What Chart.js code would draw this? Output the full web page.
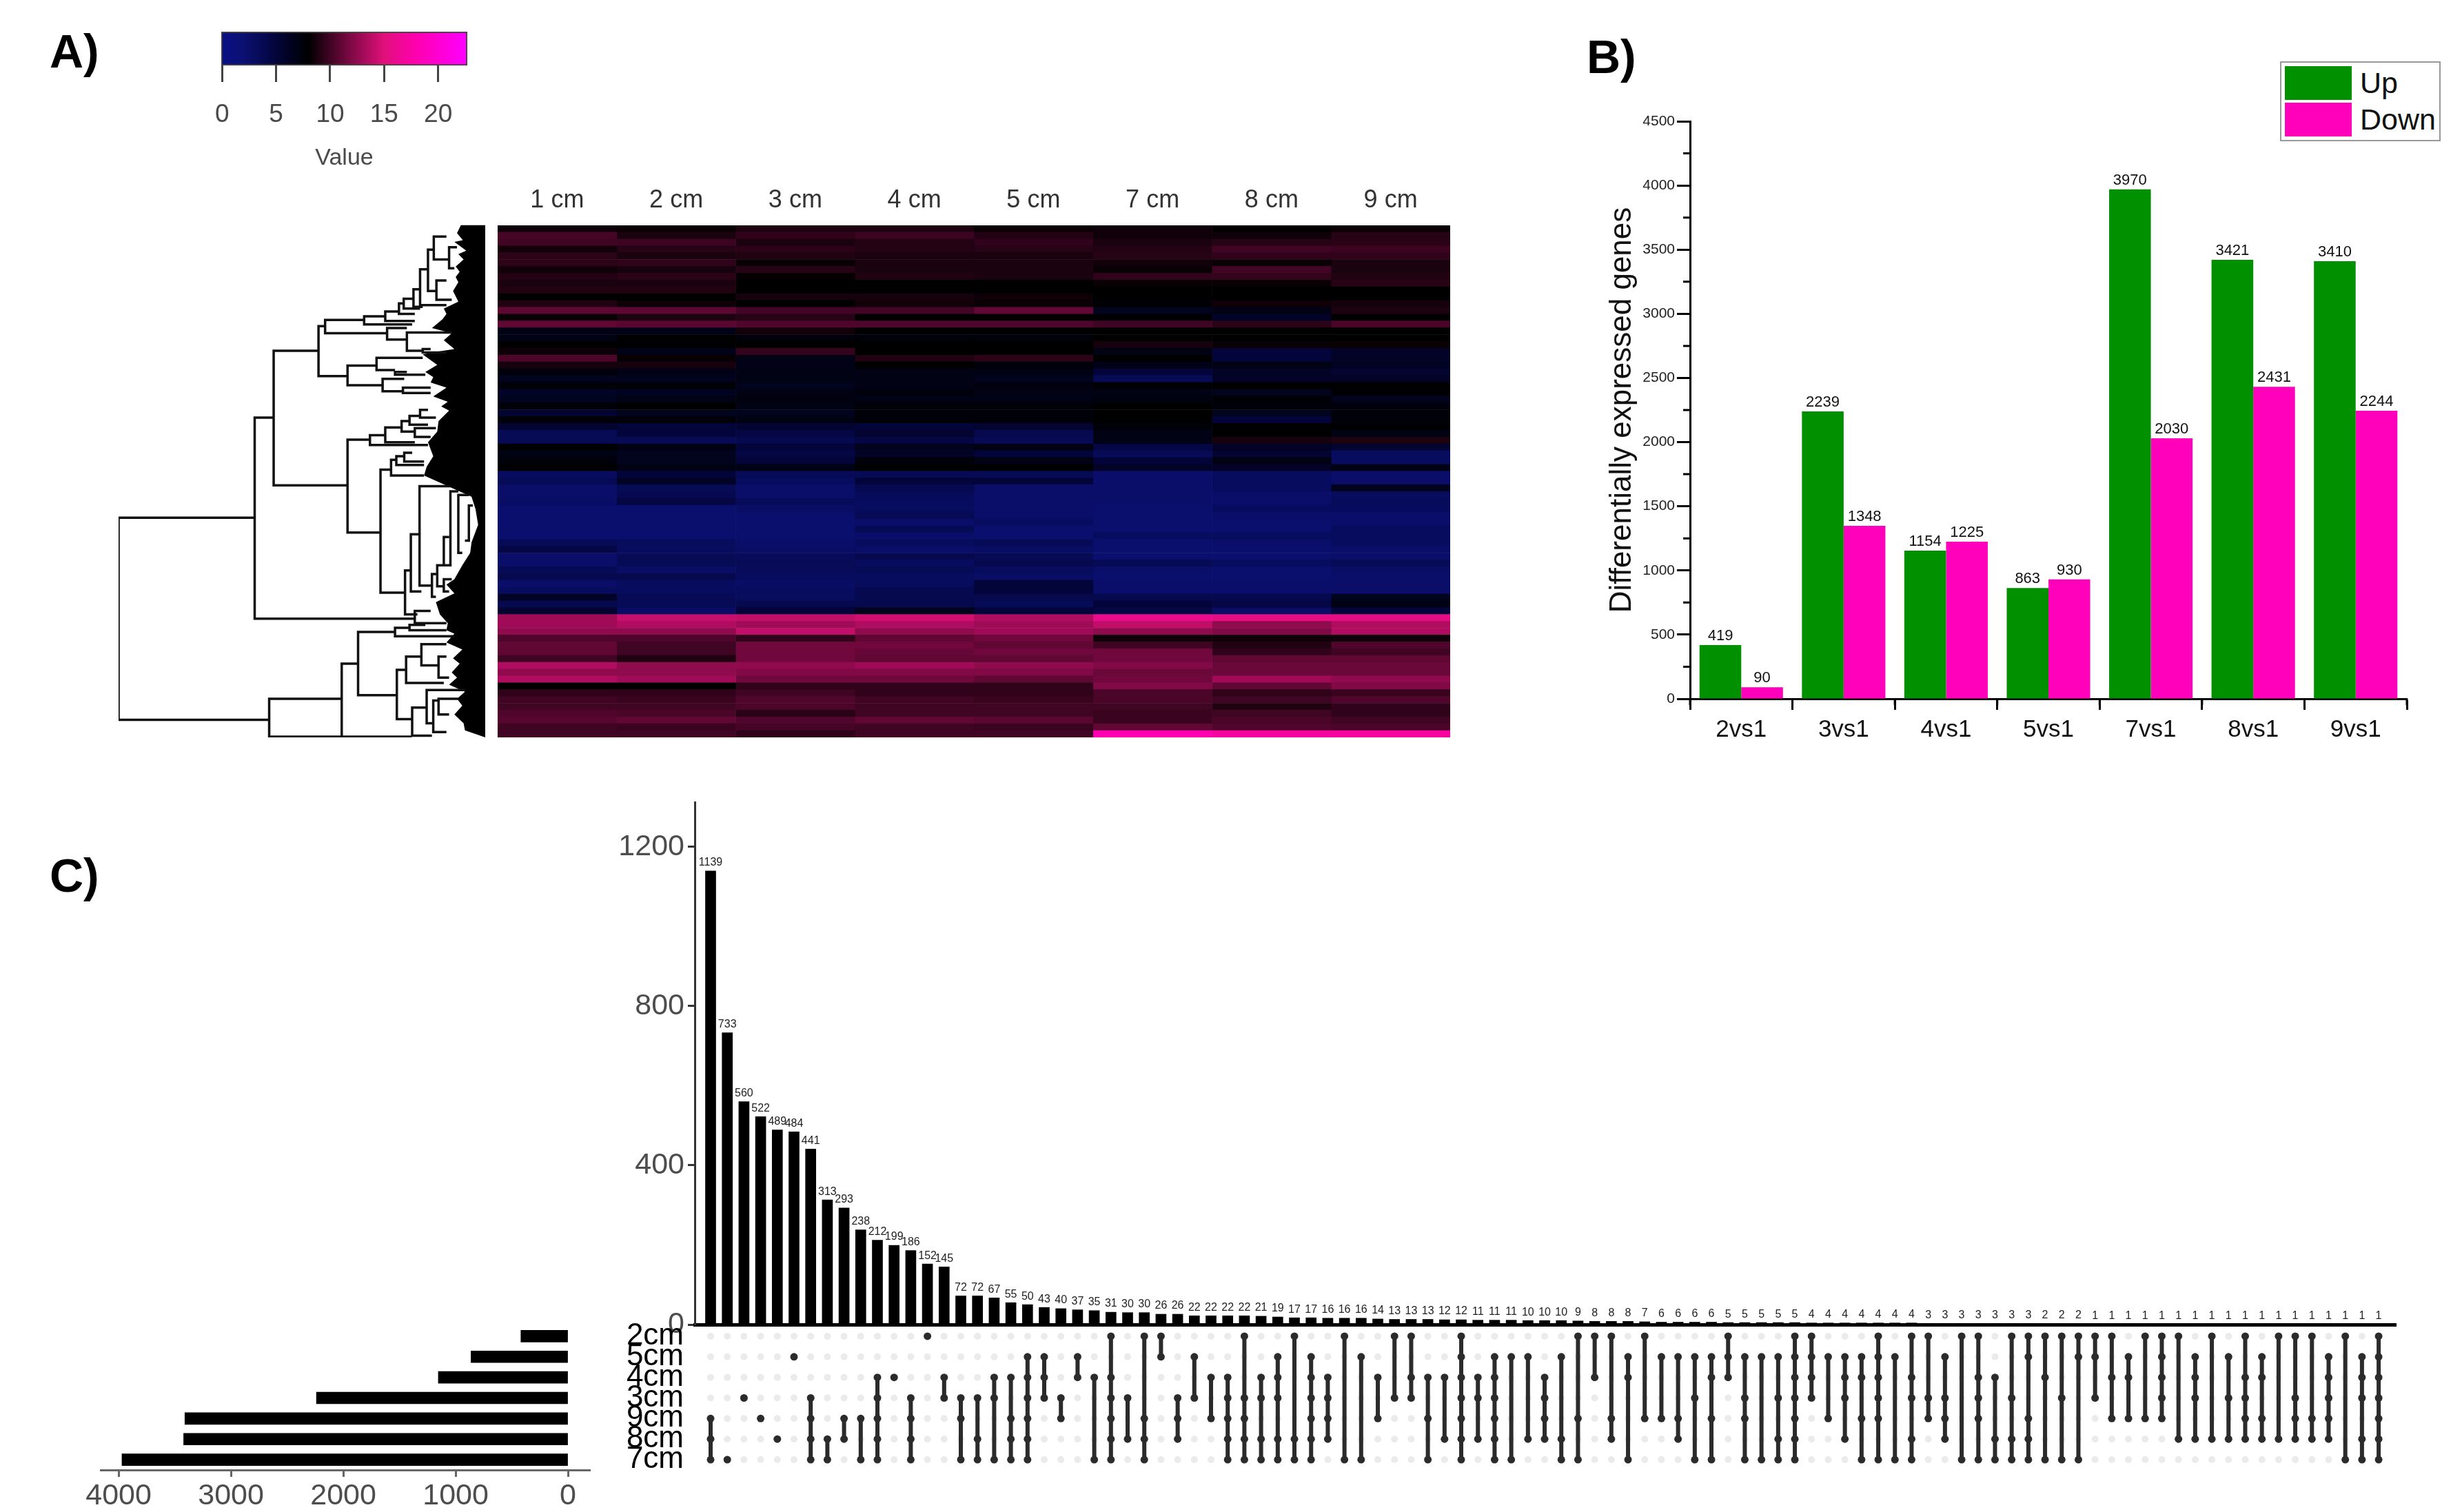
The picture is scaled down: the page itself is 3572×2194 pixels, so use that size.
<!DOCTYPE html>
<html>
<head>
<meta charset="utf-8">
<script src="https://cdn.jsdelivr.net/npm/chart.js@4"></script>
<style>
    html, body { margin: 0; padding: 0; background: #fff; width: 3572px; height: 2194px; overflow: hidden; }
    body { position: relative; font-family: "Liberation Sans", Arial, sans-serif; }
    canvas { position: absolute; }
    .letter { position: absolute; font-weight: bold; font-size: 68px; line-height: 68px; color: #000; }
    #legend { position: absolute; left: 3308px; top: 89px; width: 229px; height: 112px; border: 2px solid #999; background: #fff; }
    #legend i { position: absolute; left: 5px; width: 97px; height: 49px; }
    #legend span { position: absolute; left: 114px; font-size: 43px; line-height: 49px; color: #111; }
</style>
</head>
<body>
<div class="letter" style="left:72px;top:40px">A)</div>
<div class="letter" style="left:2302px;top:48px">B)</div>
<div class="letter" style="left:72px;top:1236px">C)</div>
<div id="legend">
    <i style="top:5px;background:#009000"></i><span style="top:5px">Up</span>
    <i style="top:58px;background:#ff00bb"></i><span style="top:58px">Down</span>
</div>

<canvas id="colorbar" style="left:280px;top:30px" width="450" height="220"></canvas>
<canvas id="heatmap" style="left:700px;top:250px" width="1420" height="820"></canvas>
<canvas id="dendro" style="left:160px;top:315px" width="555" height="765"></canvas>
<canvas id="degBars" style="left:2310px;top:150px" width="1200" height="950"></canvas>
<canvas id="setSizes" style="left:100px;top:1915px" width="800" height="279"></canvas>
<canvas id="intersections" style="left:880px;top:1150px" width="2620" height="790"></canvas>
<canvas id="matrix" style="left:880px;top:1915px" width="2620" height="230"></canvas>

<script>
    // Panel A: heat map, one row per band, columns follow heatSamples.
    var heatSamples = ['1 cm', '2 cm', '3 cm', '4 cm', '5 cm', '7 cm', '8 cm', '9 cm'];
    var heatValues = [
        [8.4,8.3,8.9,8.9,8.3,8.5,8,8.3],
        [10.2,8.8,9.5,9.9,9.1,8.5,8.5,9.2],
        [10,9.9,8.8,9.1,9.5,8.8,9.2,9.3],
        [8.6,9.2,9.3,9.1,9.2,9.1,10,9.9],
        [9.4,8.8,9,8.8,8.8,9.2,9.5,9.5],
        [9.4,9.5,8.3,8.8,8.8,8.6,8.3,8.8],
        [8.6,8.7,9.2,8.8,8.8,8.3,10.1,8.8],
        [9.1,9.3,8.2,9,8.8,9.5,9.6,9],
        [8.8,8.8,8,8,8,8.3,8.3,9.2],
        [9,9,8,8,8,8,8,8],
        [8,8,8.7,8.7,8.4,8,8,8],
        [9,8.4,8,8.6,8.3,7.8,8.5,8.7],
        [10.9,10.9,10.1,10.1,11.1,6.5,7,8.9],
        [8.3,8.9,9.2,8,8,7.8,6,8],
        [11,10.8,10.5,10.5,10.5,10,9.3,10.3],
        [7,6.8,8.6,8,8,8,8,8],
        [7,8,7.5,7.5,7.5,8,8,8],
        [8,8,8,8,8,8.7,8.3,8.3],
        [8.4,6.8,9.6,8,8,7,5,6],
        [10.4,8.2,7,9,9.4,8,5,6],
        [8.7,8.7,6.8,8,7.5,6.8,7,6.2],
        [7.3,6.8,7,7,7,5,6,5.5],
        [6.5,6.5,7,7,6.5,3.5,6,6],
        [7.5,7.7,6.5,7,7.2,7.8,8,8],
        [6,6.3,7,7.3,7,7,6.5,7.8],
        [6.5,7,7.2,7,7,7.2,7.7,6.5],
        [7.5,8,7,7.5,7.5,8,7.5,7.3],
        [5.5,6.5,6.5,7.5,7.5,8,6.5,7.5],
        [7.5,7.5,7,7.7,7.5,8,5,7.5],
        [5.5,5,5.5,5,5.5,7.5,8,7.8],
        [3.5,5,4.5,5.5,4,7,8,7],
        [3.5,3.5,4,4.5,3.5,7,8.7,8.9],
        [8,7,5,6.5,7,4.5,6,5.5],
        [7,6.5,4.5,6,5,3.5,5.5,3],
        [7.5,6.5,5,7.5,7,5,7,3],
        [8,7,7,8,8,6,6,7],
        [3,5,3.5,3.5,3.5,2.5,3,2.5],
        [3.5,6,3,5,5,2.5,3,2.5],
        [2.5,3.5,2.5,3.8,2.5,2.5,3,6.5],
        [2.5,3.8,2.5,3.3,2.5,2.5,2.5,3],
        [2.8,4.5,3.3,3,2.5,2.5,2.5,3.3],
        [2.2,2.2,2.8,3,2.5,2.2,3,3],
        [2.2,2.2,2.2,3.5,2.5,2.2,2.5,2.5],
        [2.2,2.2,2.2,2.5,3,2.2,2.2,2.5],
        [2.2,2.2,2.2,3.5,2.2,2.2,2.2,3],
        [2.2,2.2,2.2,2.5,2.2,3,3,3],
        [3.5,3.2,2.5,3,3.5,2.2,2.5,3],
        [4.5,3,2.8,2.5,2.8,2.2,2.2,2.5],
        [2.5,3.5,3.3,4,3.5,2.2,2.2,2.5],
        [2.5,3.5,3.5,3,4,3.5,3.2,3.5],
        [3.5,2.8,3.3,3.5,3,2.5,2.2,2.8],
        [4,4,3,3,2.8,2.2,2.2,2.5],
        [2.5,3,2.8,3.2,5,2.5,2.5,2.5],
        [3,3,3,3.8,5,2.5,2.5,2.5],
        [6,3.5,3.2,4,4,4,4,6.5],
        [4,3.5,4,4,3.5,5,4.5,7],
        [5.5,2.8,5,6.5,5,4.5,2.8,5],
        [13,14.2,14,14.5,13.5,16,15.5,15.5],
        [13,13.5,13,13.5,13,14,12.5,13.5],
        [12.5,12.5,14,12.5,13,12.5,12,13.5],
        [10.5,10.5,9.5,11,11.5,8.5,8.5,8.5],
        [11,10,11.5,11.5,11,10,9,10.5],
        [11,10,11.5,11.2,11.5,11.5,9.5,10],
        [10,9,11.5,11,11,11.5,11,11],
        [13.5,12.5,12.5,13,12.5,12,11.3,11.3],
        [12.5,12.5,12,12,12,11.3,11.3,11.3],
        [13.5,13,11.5,11.5,11,11.5,13,12.5],
        [8,8,9.5,9.5,9.5,12,11,12],
        [9.5,9.5,10,9.5,9.5,10.3,9.5,9.8],
        [10,9.8,10.5,10,9.8,10.3,10,10.5],
        [10,10,10.3,10,10,10,9,9.5],
        [10.5,10.3,9.3,10,10,9.8,10,9.5],
        [10.7,11,10.5,11,10.8,9.8,10.3,10],
        [10,9.8,10.2,10,9.8,11,10.5,10.3],
        [10,10,9.5,10,10,18,17,17]
    ];
    var colorTicks = [0, 5, 10, 15, 20];
    var colorStops = [
        [0, [10, 16, 132]], [2, [11, 16, 114]], [5, [3, 5, 58]], [8, [0, 0, 0]],
        [15, [224, 16, 122]], [18, [255, 0, 176]], [22.7, [255, 0, 255]]
    ];

    // Dendrogram merges: [height, y1, child height 1, y2, child height 2].
    var dendroMerges = [
        [57,885,573,1460,628],[573,600,645,1172,1180],[645,410,815,793,925],[815,340,840,482,925],
        [840,322,988,360,1075],[988,312,1068,335,1170],[1068,298,1120,325,1180],[1120,275,1138,305,1180],
        [1138,262,1175,290,1200],[1175,235,1200,285,1210],[1200,178,1230,280,1300],[1230,122,1252,240,1262],
        [1252,85,1300,150,1310],[1262,210,1300,265,1320],[1310,115,1340,175,1330],[1075,345,1150,378,1150],
        [1150,358,1320,410,1210],[1210,405,1240,415,1300],[925,452,1035,508,1058],[1035,430,1210,465,1105],
        [1105,470,1150,478,1220],[1058,490,1140,525,1135],[1135,515,1240,530,1240],[925,663,1010,927,1050],
        [1010,650,1068,678,1230],[1068,628,1130,670,1180],[1130,610,1160,640,1180],[1160,595,1200,620,1230],
        [1200,578,1230,600,1260],[1180,630,1260,655,1240],[1050,748,1090,1098,1143],[1090,720,1110,765,1215],
        [1110,710,1140,735,1215],[1140,700,1170,725,1215],[1143,1035,1165,1160,1190],[1165,932,1198,1095,1205],
        [1198,795,1315,1078,1245],[1315,810,1345,1020,1290],[1345,820,1385,985,1360],[1385,850,1400,950,1370],
        [1290,940,1310,1020,1275],[1245,1045,1265,1110,1260],[1265,1020,1285,1080,1290],[1290,1060,1320,1095,1310],
        [1180,1150,1240,1185,1300],[628,1400,903,1508,903],[903,1300,965,1508,1168],[965,1210,1105,1390,1112],
        [1105,1198,1160,1222,1330],[1160,1190,1220,1205,1300],[1112,1318,1147,1458,1170],[1147,1280,1205,1355,1290],
        [1205,1245,1300,1305,1270],[1270,1280,1300,1340,1310],[1170,1425,1225,1505,1245],[1225,1375,1370,1470,1250],
        [1250,1405,1270,1495,1300],[1270,1400,1350,1445,1310]
    ];
    // Where the dense leaf branches begin, top to bottom: [height, y].
    var dendroLeafEdge = [
        [1355,52],[1340,75],[1362,95],[1330,100],[1375,125],[1345,135],[1365,150],[1335,170],[1350,185],[1335,200],
        [1345,215],[1325,240],[1345,270],[1290,290],[1300,305],[1285,320],[1245,345],[1320,360],[1290,380],[1330,405],
        [1270,412],[1210,420],[1265,450],[1220,470],[1250,485],[1240,500],[1300,515],[1250,540],[1305,555],
        [1280,568],[1310,580],[1270,610],[1265,640],[1230,670],[1250,710],[1225,740],[1215,765],[1275,785],[1320,800],
        [1395,825],[1410,860],[1420,905],[1395,955],[1390,985],[1360,1020],[1330,1060],[1300,1075],[1330,1100],
        [1260,1125],[1275,1160],[1305,1185],[1300,1205],[1330,1215],[1300,1240],[1360,1260],[1325,1285],[1350,1300],
        [1320,1325],[1340,1340],[1310,1360],[1370,1380],[1340,1400],[1360,1420],[1330,1445],[1365,1470],[1370,1490],
        [1447,1510],[1447,52]
    ];

    // Panel B: differentially expressed genes.
    var degComparisons = ['2vs1', '3vs1', '4vs1', '5vs1', '7vs1', '8vs1', '9vs1'];
    var degUp = [419, 2239, 1154, 863, 3970, 3421, 3410];
    var degDown = [90, 1348, 1225, 930, 2030, 2431, 2244];

    // Panel C: UpSet plot. Each entry of intersectionSets lists the member rows of setNames.
    var setNames = ['2cm', '5cm', '4cm', '3cm', '9cm', '8cm', '7cm'];
    var setSizeValues = [419, 863, 1154, 2239, 3410, 3421, 3970];
    var setSizeTicks = [0, 1000, 2000, 3000, 4000];
    var intersectionTicks = [0, 400, 800, 1200];
    var intersectionSizes = [
        1139,733,560,522,489,484,441,313,293,238,212,199,186,152,145,72,72,67,55,50,43,40,37,35,31,30,30,26,26,
        22,22,22,22,21,19,17,17,16,16,16,14,13,13,13,12,12,11,11,11,10,10,10,9,8,8,8,7,6,6,6,6,5,5,5,5,5,
        4,4,4,4,4,4,4,3,3,3,3,3,3,3,2,2,2,1,1,1,1,1,1,1,1,1,1,1,1,1,1,1,1,1,1
    ];
    var intersectionSets = [
        '456','6','3','4','5','1','3456','56','45','46','23456','2','3456','0','23','346','356','236','2456','123456',
        '123','34','12','26','023456','35','0456','01','345','13','24','23456','03456','2356','12356','056','123456','2345',
        '06','16','24','03','023','246','25','0123456','235','123456','16','15','2345','156','046','02','045','126','04',
        '14','145','136','1246','012','1346','16','1356','0123456','0123','14','1235','1246','012346','16','02356','034',
        '1345','06','02346','256','0356','01456','026','036','016','013','024','124','04','01234','05','1235','05','135',
        '02345','1245','05','0345','045','12345','06','12356','0123456'
    ];

    Chart.defaults.font.family = '"Liberation Sans", Arial, sans-serif';
    Chart.defaults.devicePixelRatio = 1;
    Chart.defaults.animation = false;
    Chart.defaults.responsive = false;
    Chart.defaults.plugins.legend.display = false;
    Chart.defaults.plugins.tooltip.enabled = false;

    /**
     * Force an axis to a fixed thickness so the plot areas land where they should.
     */
    function pinAxis(size) {
        return function(scale) {
            if (scale.isHorizontal()) {
                scale.height = size;
            } else {
                scale.width = size;
            }
            scale.paddingLeft = scale.paddingRight = scale.paddingTop = scale.paddingBottom = 0;
        };
    }

    // Chart.js respaces a stepSize when min and max are both set, so give the ticks directly.
    function fixedTicks(values) {
        return function(scale) {
            scale.ticks = values.map(function(v) { return { value: v }; });
        };
    }

    function heatColor(value) {
        for (var i = 1; i < colorStops.length; i++) {
            if (value <= colorStops[i][0]) {
                var a = colorStops[i - 1], b = colorStops[i];
                var t = (value - a[0]) / (b[0] - a[0]);
                return 'rgb(' + [0, 1, 2].map(function(c) {
                    return Math.round(a[1][c] + (b[1][c] - a[1][c]) * t);
                }).join(',') + ')';
            }
        }
        return 'rgb(255,0,255)';
    }

    /**
     * Value labels above the bars of a chart.
     */
    function barLabels(font, gap, color) {
        return {
            id: 'barLabels',
            afterDatasetsDraw: function(chart) {
                var ctx = chart.ctx;
                ctx.save();
                ctx.font = font;
                ctx.fillStyle = color;
                ctx.textAlign = 'center';
                ctx.textBaseline = 'bottom';
                chart.data.datasets.forEach(function(ds, d) {
                    chart.getDatasetMeta(d).data.forEach(function(bar, i) {
                        var v = ds.data[i];
                        ctx.fillText(String(v.y !== undefined ? v.y : v), bar.x, bar.y - gap);
                    });
                });
                ctx.restore();
            }
        };
    }

    /**
     * Short ticks between the labelled ones on the Origin style axes of panel B.
     */
    var minorTicks = {
        id: 'minorTicks',
        afterDraw: function(chart) {
            var ctx = chart.ctx, x = chart.scales.x, y = chart.scales.y;
            ctx.save();
            ctx.strokeStyle = '#000';
            ctx.lineWidth = 3;
            ctx.beginPath();
            for (var v = 250; v < 4500; v += 500) {
                var py = y.getPixelForValue(v);
                ctx.moveTo(x.left, py);
                ctx.lineTo(x.left - 10, py);
            }
            for (var i = 0; i <= degComparisons.length; i++) {
                var px = x.getPixelForValue(i - 0.5);
                ctx.moveTo(px, y.bottom);
                ctx.lineTo(px, y.bottom + 9);
            }
            ctx.stroke();
            ctx.restore();
        }
    };

    function drawColorbar() {
        var barMin = -0.08, barMax = 22.7;
        new Chart(document.getElementById('colorbar'), {
            type: 'bar',
            data: {
                labels: ['Value'],
                datasets: [{
                    data: [[barMin, barMax]],
                    borderColor: '#444',
                    borderWidth: 2,
                    borderSkipped: false,
                    barPercentage: 1,
                    categoryPercentage: 1,
                    backgroundColor: function(c) {
                        var area = c.chart.chartArea;
                        if (!area) {
                            return '#000';
                        }
                        var g = c.chart.ctx.createLinearGradient(area.left, 0, area.right, 0);
                        colorStops.forEach(function(s) {
                            g.addColorStop((s[0] - barMin) / (barMax - barMin), heatColor(s[0]));
                        });
                        return g;
                    }
                }]
            },
            options: {
                indexAxis: 'y',
                layout: { padding: { left: 41, right: 52, top: 16 } },
                scales: {
                    y: { display: false },
                    x: {
                        type: 'linear',
                        min: barMin,
                        max: barMax,
                        afterBuildTicks: fixedTicks(colorTicks),
                        afterFit: pinAxis(155),
                        border: { display: false },
                        grid: { drawOnChartArea: false, tickLength: 24, tickWidth: 3, tickColor: '#444' },
                        ticks: { font: { size: 37 }, color: '#4a4a4a', padding: 26, maxRotation: 0 },
                        title: { display: true, text: 'Value', font: { size: 34 }, color: '#4a4a4a', padding: 0 }
                    }
                }
            }
        });
    }

    function drawHeatmap() {
        var rows = heatValues.map(function(r, i) { return 'row ' + (i + 1); });
        new Chart(document.getElementById('heatmap'), {
            type: 'bar',
            data: {
                labels: rows,
                datasets: heatSamples.map(function(sample, col) {
                    return {
                        label: sample,
                        data: rows.map(function() { return 1; }),
                        barPercentage: 1,
                        categoryPercentage: 1,
                        backgroundColor: function(c) {
                            return heatColor(heatValues[c.dataIndex][col]);
                        }
                    };
                })
            },
            options: {
                indexAxis: 'y',
                // The last band runs past the canvas so only its top few pixels show.
                layout: { padding: { left: 22, right: 16, bottom: -7 } },
                scales: {
                    y: { display: false, stacked: true },
                    x: {
                        type: 'linear',
                        position: 'top',
                        stacked: true,
                        min: 0,
                        max: heatSamples.length,
                        afterBuildTicks: function(scale) {
                            scale.ticks = heatSamples.map(function(s, i) { return { value: i + 0.5 }; });
                        },
                        afterFit: pinAxis(77),
                        border: { display: false },
                        grid: { display: false },
                        ticks: {
                            font: { size: 36 },
                            color: '#333',
                            padding: 6,
                            maxRotation: 0,
                            autoSkip: false,
                            callback: function(v) { return heatSamples[v - 0.5]; }
                        }
                    }
                }
            }
        });
    }

    function drawDendrogram() {
        var links = [];
        dendroMerges.forEach(function(m) {
            links.push({ x: m[2], y: m[1] }, { x: m[0], y: m[1] }, { x: m[0], y: m[3] }, { x: m[4], y: m[3] }, { x: null, y: null });
        });
        new Chart(document.getElementById('dendro'), {
            type: 'scatter',
            data: {
                datasets: [
                    { data: links, showLine: true, spanGaps: false, borderColor: '#111', borderWidth: 3.5, pointRadius: 0 },
                    {
                        data: dendroLeafEdge.map(function(p) { return { x: p[0], y: p[1] }; }),
                        showLine: true,
                        borderWidth: 0,
                        pointRadius: 0,
                        backgroundColor: '#000',
                        fill: 'shape'
                    }
                ]
            },
            options: {
                layout: { padding: { left: 12, right: 11, top: 11.5, bottom: 10 } },
                scales: {
                    x: { display: false, type: 'linear', min: 57, max: 1447 },
                    y: { display: false, type: 'linear', min: 52, max: 1510, reverse: true }
                }
            }
        });
    }

    function drawDegBars() {
        new Chart(document.getElementById('degBars'), {
            type: 'bar',
            data: {
                labels: degComparisons,
                datasets: [
                    { label: 'Up', data: degUp, backgroundColor: '#009000', categoryPercentage: 0.815, barPercentage: 1 },
                    { label: 'Down', data: degDown, backgroundColor: '#ff00bb', categoryPercentage: 0.815, barPercentage: 1 }
                ]
            },
            options: {
                layout: { padding: { top: 26, right: 18 } },
                scales: {
                    x: {
                        afterFit: pinAxis(86),
                        border: { color: '#000', width: 3 },
                        grid: { drawOnChartArea: false, tickLength: 16, tickWidth: 3, tickColor: '#000' },
                        ticks: { font: { size: 35 }, color: '#111', padding: 8, maxRotation: 0 }
                    },
                    y: {
                        min: 0,
                        max: 4500,
                        afterFit: pinAxis(142),
                        border: { color: '#000', width: 3 },
                        grid: { drawOnChartArea: false, tickLength: 19, tickWidth: 3, tickColor: '#000' },
                        ticks: { stepSize: 500, font: { size: 21 }, color: '#222', padding: 3, callback: function(v) { return v; } },
                        title: {
                            display: true,
                            text: 'Differentially expressed genes',
                            font: { size: 44 },
                            color: '#111',
                            padding: { top: 17, bottom: 0 }
                        }
                    }
                }
            },
            plugins: [barLabels('22px "Liberation Sans"', 2, '#111'), minorTicks]
        });
    }

    function drawSetSizes() {
        new Chart(document.getElementById('setSizes'), {
            type: 'bar',
            data: {
                labels: setNames,
                datasets: [{ data: setSizeValues, backgroundColor: '#000', barThickness: 17 }]
            },
            options: {
                indexAxis: 'y',
                layout: { padding: { left: 46, right: 44, top: 9 } },
                scales: {
                    y: { display: false },
                    x: {
                        type: 'linear',
                        reverse: true,
                        min: -196,
                        max: 4160,
                        afterBuildTicks: fixedTicks(setSizeTicks),
                        afterFit: pinAxis(61),
                        border: { color: '#666', width: 3 },
                        grid: { drawOnChartArea: false, tickLength: 10, tickWidth: 3, tickColor: '#666' },
                        ticks: { font: { size: 43 }, color: '#4d4d4d', padding: 2, maxRotation: 0, callback: function(v) { return v; } }
                    }
                }
            }
        });
    }

    function drawIntersections() {
        new Chart(document.getElementById('intersections'), {
            type: 'bar',
            data: {
                datasets: [{
                    data: intersectionSizes.map(function(v, i) { return { x: i, y: v }; }),
                    backgroundColor: '#000',
                    barThickness: 15
                }]
            },
            options: {
                layout: { padding: { top: 14, right: 24, bottom: 18 } },
                scales: {
                    x: {
                        type: 'linear',
                        offset: false,
                        min: -0.95,
                        max: 101.03,
                        afterFit: pinAxis(0),
                        border: { color: '#000', width: 5 },
                        grid: { display: false },
                        ticks: { display: false }
                    },
                    y: {
                        min: 0,
                        max: 1312,
                        afterBuildTicks: fixedTicks(intersectionTicks),
                        afterFit: pinAxis(128),
                        border: { color: '#333', width: 3 },
                        grid: { drawOnChartArea: false, tickLength: 10, tickWidth: 3, tickColor: '#333' },
                        ticks: { font: { size: 43 }, color: '#4d4d4d', padding: 5, callback: function(v) { return v; } }
                    }
                }
            },
            plugins: [barLabels('16px "Liberation Sans"', 4, '#222')]
        });
    }

    function drawMatrix() {
        var empty = [], members = [], links = [];
        intersectionSets.forEach(function(rows, i) {
            setNames.forEach(function(name) {
                empty.push({ x: i, y: name });
            });
            var idx = rows.split('').map(Number);
            idx.forEach(function(r) {
                members.push({ x: i, y: setNames[r] });
            });
            if (idx.length > 1) {
                links.push({ x: i, y: setNames[idx[0]] }, { x: i, y: setNames[idx[idx.length - 1]] }, { x: null, y: null });
            }
        });
        new Chart(document.getElementById('matrix'), {
            type: 'scatter',
            data: {
                datasets: [
                    { data: members, pointRadius: 5.5, backgroundColor: '#2b2b2b', borderWidth: 0 },
                    { data: links, showLine: true, spanGaps: false, borderColor: '#2b2b2b', borderWidth: 6, pointRadius: 0 },
                    { data: empty, pointRadius: 5, backgroundColor: '#ebebeb', borderWidth: 0 }
                ]
            },
            options: {
                layout: { padding: { top: 9, right: 24, bottom: 12 } },
                scales: {
                    x: { display: false, type: 'linear', min: -0.95, max: 101.03 },
                    y: {
                        type: 'category',
                        labels: setNames,
                        offset: true,
                        afterFit: pinAxis(128),
                        border: { display: false },
                        grid: { display: false },
                        ticks: { font: { size: 44 }, color: '#000', padding: 8, autoSkip: false }
                    }
                }
            }
        });
    }

    drawColorbar();
    drawDendrogram();
    drawHeatmap();
    drawDegBars();
    drawSetSizes();
    drawIntersections();
    drawMatrix();
</script>
</body>
</html>
